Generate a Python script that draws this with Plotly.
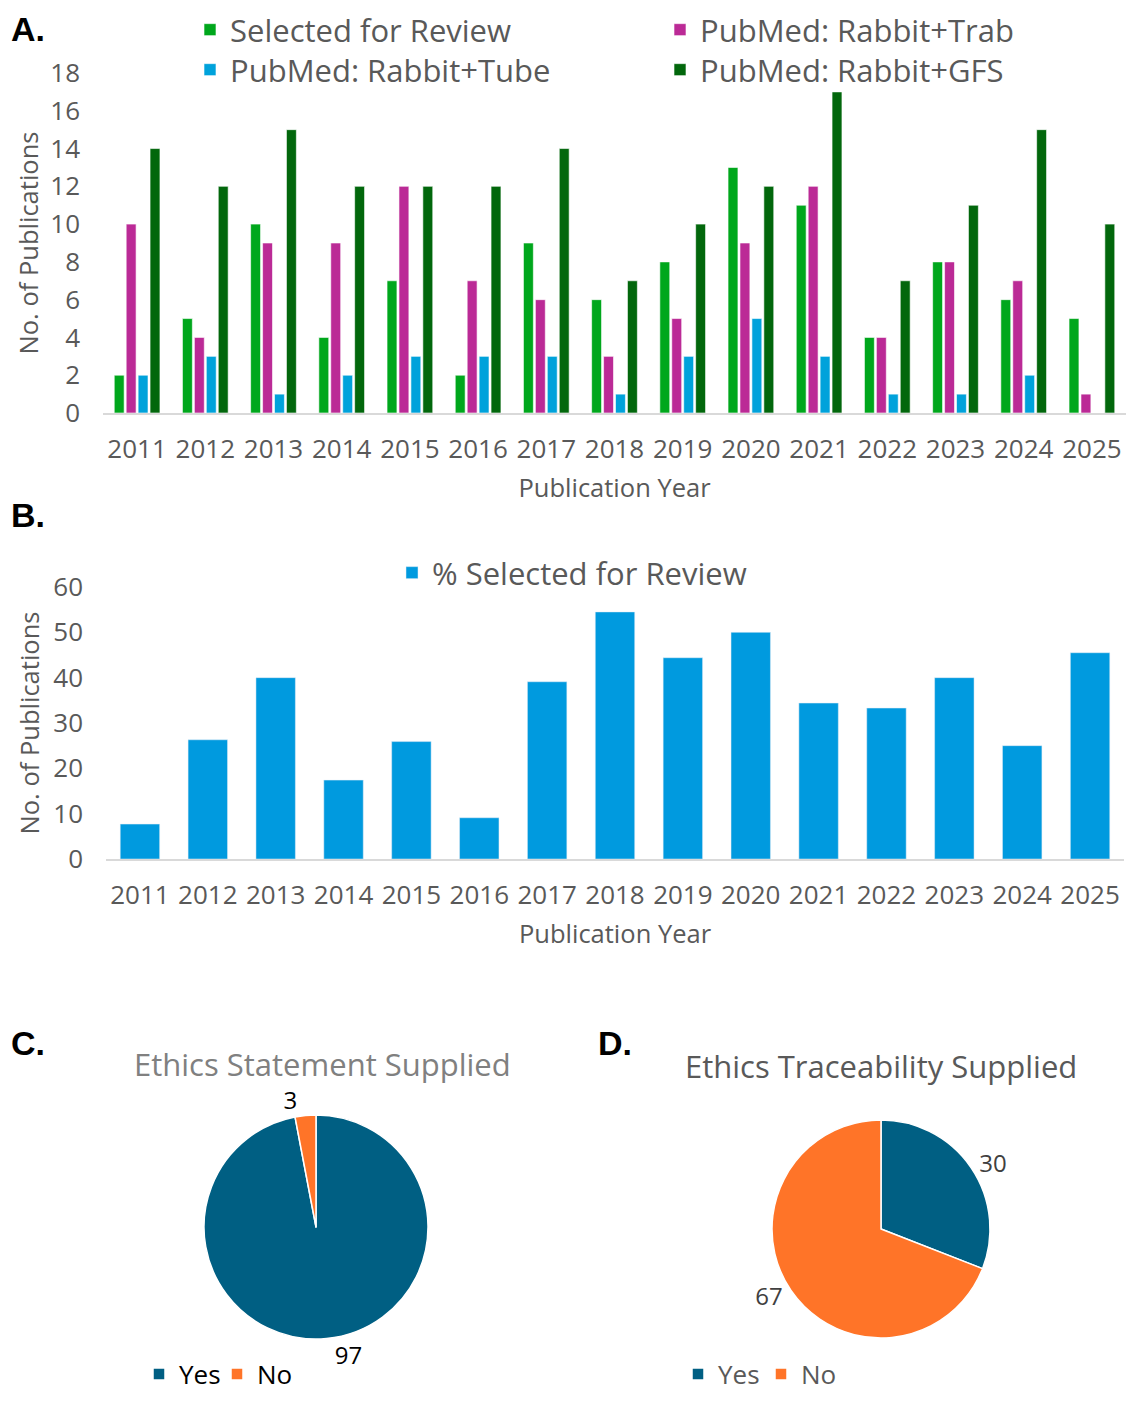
import plotly.graph_objects as go

# data
years = [str(y) for y in range(2011, 2026)]
selected = [2, 5, 10, 4, 7, 2, 9, 6, 8, 13, 11, 4, 8, 6, 5]
trab = [10, 4, 9, 9, 12, 7, 6, 3, 5, 9, 12, 4, 8, 7, 1]
tube = [2, 3, 1, 2, 3, 3, 3, 1, 3, 5, 3, 1, 1, 2, 0]
gfs = [14, 12, 15, 12, 12, 12, 14, 7, 10, 12, 17, 7, 11, 15, 10]
pct_selected = [7.7, 26.3, 40.0, 17.4, 25.9, 9.1, 39.1, 54.5, 44.4, 50.0, 34.4, 33.3, 40.0, 25.0, 45.5]

pie_labels_c = ["Yes", "No"]
pie_labels_d = ["Yes\u200b", "No\u200b"]  # zero-width space keeps the two pie legends apart
ethics_statement = [97, 3]
ethics_trace = [30, 67]

FONT = "Open Sans"
GREY = "#595959"
# page body has an 8px margin, so the figure is drawn a bit smaller
OFF = 8
W, H = 1135 - 2 * OFF, 1402 - 2 * OFF


def fx(px):
    return (px - OFF) / W


def fy(py):
    return 1 - (py - OFF) / H


fig = go.Figure()

series_a = [
    ("Selected for Review", selected, "#00A71C", "legend"),
    ("PubMed: Rabbit+Trab", trab, "#BB2A96", "legend"),
    ("PubMed: Rabbit+Tube", tube, "#00A2DB", "legend5"),
    ("PubMed: Rabbit+GFS", gfs, "#02670C", "legend5"),
]
for name, vals, col, leg in series_a:
    fig.add_trace(go.Bar(x=years, y=vals, name=name, marker_color=col,
                         marker_line=dict(color="white", width=0.6),
                         xaxis="x", yaxis="y", legend=leg))

fig.add_trace(go.Bar(x=years, y=pct_selected, name="% Selected for Review",
                     marker_color="#009ADF", xaxis="x2", yaxis="y2", legend="legend2"))

pie_colors = ["#005F83", "#FF7428"]
fig.add_trace(go.Pie(labels=pie_labels_c, values=ethics_statement, sort=False,
                     direction="clockwise", rotation=0,
                     marker=dict(colors=pie_colors, line=dict(color="white", width=1.5)),
                     textinfo="value", textposition="outside",
                     textfont=dict(size=24, color="#000000", family=FONT),
                     domain=dict(x=[fx(204), fx(428)], y=[fy(1339), fy(1115)]),
                     legend="legend3", hoverinfo="label+value"))
fig.add_trace(go.Pie(labels=pie_labels_d, values=ethics_trace, sort=False,
                     direction="clockwise", rotation=0,
                     marker=dict(colors=pie_colors, line=dict(color="white", width=1.5)),
                     textinfo="value", textposition="outside",
                     textfont=dict(size=24, color="#404040", family=FONT),
                     domain=dict(x=[fx(772), fx(990)], y=[fy(1338), fy(1120)]),
                     legend="legend4", hoverinfo="label+value"))

tick_font = dict(size=26, color=GREY, family=FONT)
title_font = dict(size=25.5, color=GREY, family=FONT)

fig.update_layout(
    width=W, height=H,
    margin=dict(l=0, r=0, t=0, b=0, autoexpand=False),
    paper_bgcolor="white", plot_bgcolor="white",
    font=dict(family=FONT, color=GREY),
    barmode="group", bargap=0.3, bargroupgap=0.17,
    xaxis=dict(domain=[fx(103), fx(1126)], anchor="y", showline=True, linecolor="#D9D9D9", linewidth=1.5,
               ticks="", ticklabelstandoff=12, tickfont=tick_font, showgrid=False, zeroline=False,
               title=dict(text="Publication Year", font=title_font, standoff=14)),
    yaxis=dict(domain=[fy(413), fy(73)], anchor="x", range=[0, 18], dtick=2, showline=False,
               ticks="", ticklabelstandoff=22, tickfont=tick_font, showgrid=False, zeroline=False,
               title=dict(text="No. of Publications", font=title_font, standoff=4)),
    xaxis2=dict(domain=[fx(106), fx(1124)], anchor="y2", showline=True, linecolor="#D9D9D9", linewidth=1.5,
                ticks="", ticklabelstandoff=12, tickfont=tick_font, showgrid=False, zeroline=False,
                title=dict(text="Publication Year", font=title_font, standoff=14)),
    yaxis2=dict(domain=[fy(859), fy(587)], anchor="x2", range=[0, 60], dtick=10, showline=False,
                ticks="", ticklabelstandoff=22, tickfont=tick_font, showgrid=False, zeroline=False,
                title=dict(text="No. of Publications", font=title_font, standoff=6)),
    legend=dict(orientation="h", x=fx(190), y=fy(30), xanchor="left", yanchor="middle",
                entrywidth=425, entrywidthmode="pixels",
                font=dict(size=31, color=GREY, family=FONT), bgcolor="rgba(0,0,0,0)"),
    legend5=dict(orientation="h", x=fx(190), y=fy(70), xanchor="left", yanchor="middle",
                 entrywidth=425, entrywidthmode="pixels",
                 font=dict(size=31, color=GREY, family=FONT), bgcolor="rgba(0,0,0,0)"),
    legend2=dict(orientation="v", x=fx(392), y=fy(573), xanchor="left", yanchor="middle",
                 font=dict(size=31, color=GREY, family=FONT), bgcolor="rgba(0,0,0,0)"),
    legend3=dict(orientation="h", x=fx(139), y=fy(1374), xanchor="left", yanchor="middle",
                 entrywidth=33, entrywidthmode="pixels",
                 font=dict(size=26, color="#000000", family=FONT), bgcolor="rgba(0,0,0,0)"),
    legend4=dict(orientation="h", x=fx(678), y=fy(1374), xanchor="left", yanchor="middle",
                 entrywidth=38, entrywidthmode="pixels",
                 font=dict(size=26, color=GREY, family=FONT), bgcolor="rgba(0,0,0,0)"),
    showlegend=True,
)

label_font = dict(family="Liberation Sans, Arial", size=34, color="black")
fig.add_annotation(text="<b>A.</b>", x=fx(9), y=1, xref="paper", yref="paper",
                   xanchor="left", yanchor="top", showarrow=False, font=label_font)
for text, px, py in [("<b>B.</b>", 9, 515), ("<b>C.</b>", 9, 1043), ("<b>D.</b>", 596, 1043)]:
    fig.add_annotation(text=text, x=fx(px), y=fy(py), xref="paper", yref="paper",
                       xanchor="left", yanchor="middle", showarrow=False, font=label_font)

fig.add_annotation(text="Ethics Statement Supplied", x=fx(322), y=fy(1064), xref="paper", yref="paper",
                   xanchor="center", yanchor="middle", showarrow=False,
                   font=dict(size=31, color="#808080", family=FONT))
fig.add_annotation(text="Ethics Traceability Supplied", x=fx(881), y=fy(1066), xref="paper", yref="paper",
                   xanchor="center", yanchor="middle", showarrow=False,
                   font=dict(size=31, color=GREY, family=FONT))

fig.write_html("out.html")
